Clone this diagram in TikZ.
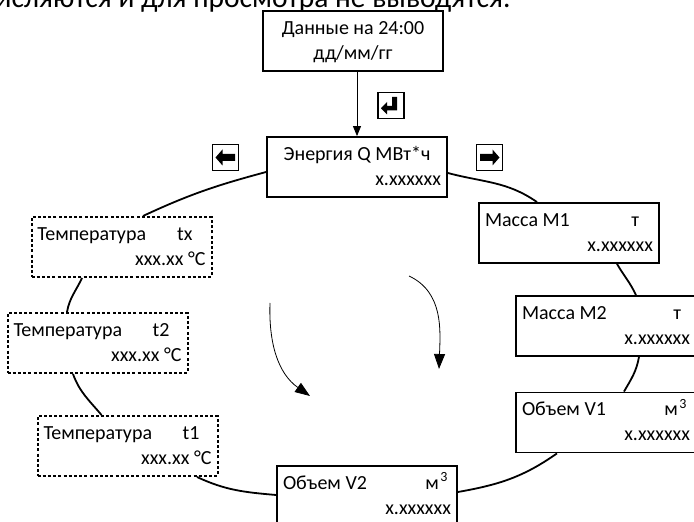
\documentclass[tikz,border=0pt]{standalone}
\usepackage{fontspec}
\setmainfont{Carlito}
\usetikzlibrary{arrows.meta}
\newcommand\firstline[2]{\makebox[\linewidth][l]{\rule{0pt}{19.5pt}#1\hfill #2}}
\newcommand\secondline[1]{\makebox[\linewidth][r]{\rule[-7.5pt]{0pt}{7.5pt}#1}}
\newcommand\boxtext[3]{\parbox[t]{168pt}{\firstline{#1}{#2}\\\secondline{#3}}}
\newcommand\cubic{\textsuperscript{3}}
\begin{document}
\begin{tikzpicture}[x=1pt,y=1pt,
  box/.style={draw, line width=1.8pt, minimum width=180pt, minimum height=60pt,
    inner xsep=6pt, inner ysep=0pt, fill=white, font=\fontsize{20}{25}\selectfont},
  dbox/.style={box, line width=2pt, dash pattern=on 3pt off 2.2pt},
  link/.style={line width=1.8pt},
  flow/.style={line width=0.8pt, -{Triangle[length=15pt,width=11pt]}},
  icon/.style={draw, line width=1.4pt, minimum width=26pt, minimum height=26pt, inner sep=0pt}]
\useasboundingbox (0,0) rectangle (694,522);
\clip (0,0) rectangle (694,522);

\node[anchor=base east, font=\fontsize{29.5}{35}\selectfont] (head) at (514,514.7) {числяются и для просмотра не выводятся.};

\node[box] (data) at (353,481) {\parbox[t]{168pt}{\centering\rule{0pt}{19.5pt}Данные на 24:00\\\rule[-7.5pt]{0pt}{7.5pt}дд/мм/гг}};
\node[box] (energy) at (357,355) {\parbox[t]{168pt}{\makebox[\linewidth][c]{\rule{0pt}{19.5pt}Энергия Q МВт*ч}\\\secondline{x.xxxxxx}}};
\node[box] (m1) at (569,289) {\boxtext{Масса M1}{т\hspace{14pt}}{x.xxxxxx}};
\node[box] (m2) at (606,196) {\boxtext{Масса M2}{т\hspace{9pt}}{x.xxxxxx}};
\node[box] (v1) at (606,99.5) {\boxtext{Объем V1}{м\hspace{1.5pt}\cubic\hspace{3pt}}{x.xxxxxx}};
\node[box] (v2) at (367,26) {\boxtext{Объем V2}{м\hspace{1.5pt}\cubic\hspace{3pt}}{x.xxxxxx}};
\node[dbox] (tx) at (121.5,275) {\boxtext{Температура}{tx\hspace{13pt}}{xxx.xx °C}};
\node[dbox] (t2) at (97.5,179) {\boxtext{Температура}{t2\hspace{12pt}}{xxx.xx °C}};
\node[dbox] (t1) at (127.5,76) {\boxtext{Температура}{t1\hspace{12pt}}{xxx.xx °C}};

% ring
\draw[link] ([yshift=-5pt]energy.west) to[out=195,in=25] ([xshift=21.5pt]tx.north);
\draw[link] ([xshift=-39.5pt]tx.south) to[out=245,in=80] ([xshift=-30.5pt]t2.north);
\draw[link] ([xshift=-24.5pt]t2.south) to[out=290,in=130] ([xshift=-26pt]t1.north);
\draw[link] ([xshift=69.5pt]t1.south) to[out=335,in=175] ([yshift=1pt]v2.west);
\draw[link] ([yshift=4pt]v2.east) to[out=10,in=215] ([xshift=-49pt]v1.south);
\draw[link] ([xshift=18pt]v1.north) to[out=60,in=260] ([xshift=33pt]m2.south);
\draw[link] ([xshift=30pt]m2.north) to[out=115,in=300] ([xshift=48pt]m1.south);
\draw[link] ([yshift=-6pt]energy.east) to[out=345,in=145] ([xshift=-32pt]m1.north);

% entry arrow
\draw[line width=0.8pt, -{Triangle[length=10pt,width=8pt]}] (data.south -| energy.north) -- (energy.north);

% rotation arrows
\coordinate (la1) at (270,219);
\coordinate (la2) at (310,126);
\coordinate (ra1) at (409,246);
\coordinate (ra2) at (439,153);
\draw[flow] (la1) to[out=268,in=145] (la2);
\draw[flow] (ra1) to[out=-25,in=88] (ra2);

% key icons
\node[icon] (kenter) at (391,416.5) {};
\node[icon] (kleft) at (225.5,364.5) {};
\node[icon] (kright) at (489.5,364.5) {};
\fill[shift={(kenter.center)}] (6,8.5) -- (1,8.5) -- (1,-0.5) -- (-4,-0.5) -- (-4,3.5) -- (-10,-2.75) -- (-4,-9) -- (-4,-5) -- (6,-5) -- cycle;
\fill[shift={(kleft.center)}] (-10,0) -- (-3,8) -- (-3,3.5) -- (9.5,3.5) -- (9.5,-3.5) -- (-3,-3.5) -- (-3,-8) -- cycle;
\fill[shift={(kright.center)}] (10,0) -- (3,8) -- (3,3.5) -- (-9.5,3.5) -- (-9.5,-3.5) -- (3,-3.5) -- (3,-8) -- cycle;
\end{tikzpicture}
\end{document}
